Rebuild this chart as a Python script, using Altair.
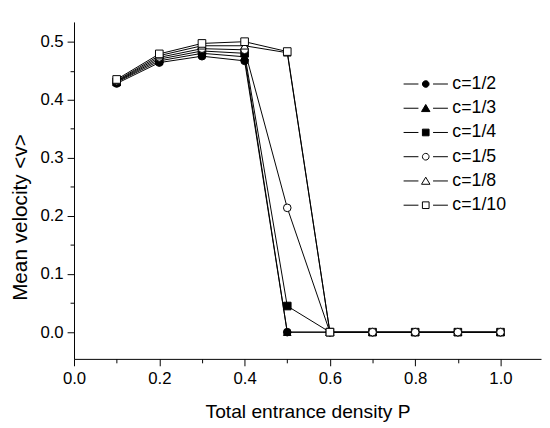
import altair as alt
import pandas as pd

P = [0.1, 0.2, 0.3, 0.4, 0.5, 0.6, 0.7, 0.8, 0.9, 1.0]
series = ["c=1/2", "c=1/3", "c=1/4", "c=1/5", "c=1/8", "c=1/10"]
v_c2 = [0.428, 0.464, 0.475, 0.467, 0.000, 0.0, 0.0, 0.0, 0.0, 0.0]
v_c3 = [0.430, 0.467, 0.480, 0.474, 0.000, 0.0, 0.0, 0.0, 0.0, 0.0]
v_c4 = [0.431, 0.470, 0.484, 0.480, 0.045, 0.0, 0.0, 0.0, 0.0, 0.0]
v_c5 = [0.432, 0.473, 0.488, 0.486, 0.214, 0.0, 0.0, 0.0, 0.0, 0.0]
v_c8 = [0.433, 0.476, 0.493, 0.493, 0.481, 0.0]
v_c10 = [0.435, 0.479, 0.497, 0.500, 0.483, 0.0]

shapes = ["circle", "triangle-up", "square", "circle", "triangle-up", "square"]
fills = ["black", "black", "black", "white", "white", "white"]
strokes = ["black"] * 6

LINE = "M-1,0H-0.33M0.33,0H1"
CIRC = "M-0.15,0A0.15,0.15 0 1,0 0.15,0A0.15,0.15 0 1,0 -0.15,0Z"
TRI = "M0,-0.17L0.19,0.15L-0.19,0.15Z"
SQR = "M-0.15,-0.15H0.15V0.15H-0.15Z"
legend_paths = [LINE + CIRC, LINE + TRI, LINE + SQR, LINE + CIRC, LINE + TRI, LINE + SQR]

rows = []
for name, vals in zip(series, [v_c2, v_c3, v_c4, v_c5, v_c8, v_c10]):
    for p, v in zip(P, vals):
        rows.append({"P": p, "v": v, "series": name})
df = pd.DataFrame(rows)

x_major = [0.0, 0.2, 0.4, 0.6, 0.8, 1.0]
x_minor = [0.1, 0.3, 0.5, 0.7, 0.9]
y_major = [0.0, 0.1, 0.2, 0.3, 0.4, 0.5]
y_minor = [0.05, 0.15, 0.25, 0.35, 0.45]

FONT = "Liberation Sans"
xscale = alt.Scale(domain=[0, 1.095], nice=False, zero=False)
yscale = alt.Scale(domain=[-0.046, 0.534], nice=False, zero=False)

x_axis = alt.Axis(orient="bottom", values=x_major, format=".1f", title="Total entrance density P",
                  tickSize=7, labelPadding=5, labelFontSize=17, titleFontSize=19.5,
                  labelFont=FONT, titleFont=FONT, titleFontWeight="normal",
                  titleY=60, titleBaseline="alphabetic",
                  domainColor="black", tickColor="black", labelColor="black",
                  titleColor="black", grid=False, labelFlush=False)
y_axis = alt.Axis(orient="left", values=y_major, format=".1f", title="Mean velocity <v>",
                  tickSize=7, labelPadding=4, labelFontSize=17, titleFontSize=21,
                  labelFont=FONT, titleFont=FONT, titleFontWeight="normal",
                  titleX=-54, titleY=198, titleBaseline="middle", titleAngle=270,
                  domainColor="black", tickColor="black", labelColor="black",
                  titleColor="black", grid=False, labelFlush=False)
x_minor_axis = alt.Axis(orient="bottom", values=x_minor, labels=False, domain=False, tickSize=4,
                        tickColor="black", title=None, grid=False)
y_minor_axis = alt.Axis(orient="left", values=y_minor, labels=False, domain=False, tickSize=4,
                        tickColor="black", title=None, grid=False)

base = alt.Chart(df)

lines = base.mark_line(color="black", strokeWidth=1).encode(
    x=alt.X("P:Q", scale=xscale, axis=x_axis),
    y=alt.Y("v:Q", scale=yscale, axis=y_axis),
    detail="series:N",
)

points = base.mark_point(filled=True, size=60, stroke="black", strokeWidth=1, opacity=1).encode(
    x=alt.X("P:Q", scale=xscale, axis=None),
    y=alt.Y("v:Q", scale=yscale, axis=None),
    shape=alt.Shape("series:N", scale=alt.Scale(domain=series, range=shapes), legend=None),
    fill=alt.Fill("series:N", scale=alt.Scale(domain=series, range=fills), legend=None),
    order=alt.Order("idx:Q"),
).transform_calculate(
    idx="indexof(" + str(series) + ", datum.series)"
)

legend_spec = dict(title=None, orient="none", legendX=334, legendY=54, padding=0,
                   symbolSize=2025, symbolStrokeWidth=1, symbolStrokeColor="black",
                   symbolOpacity=1, labelFont=FONT, labelFontSize=18, labelColor="black",
                   labelOffset=4, rowPadding=6.6, clipHeight=18)

legend_layer = base.mark_point(filled=False, strokeWidth=1, opacity=0).encode(
    x=alt.X("P:Q", scale=xscale, axis=None),
    y=alt.Y("v:Q", scale=yscale, axis=None),
    shape=alt.Shape("series:N", scale=alt.Scale(domain=series, range=legend_paths),
                    legend=alt.Legend(**legend_spec)),
    fill=alt.Fill("series:N", scale=alt.Scale(domain=series, range=fills),
                  legend=alt.Legend(**legend_spec)),
    stroke=alt.Stroke("series:N", scale=alt.Scale(domain=series, range=strokes),
                      legend=alt.Legend(**legend_spec)),
)

minor = base.mark_point(opacity=0).encode(
    x=alt.X("P:Q", scale=xscale, axis=x_minor_axis),
    y=alt.Y("v:Q", scale=yscale, axis=y_minor_axis),
)

chart = alt.layer(minor, lines, points, legend_layer).resolve_scale(
    shape="independent", fill="independent", stroke="independent"
).resolve_axis(x="independent", y="independent").properties(
    width=474, height=342,
    autosize=alt.AutoSizeParams(type="none"),
    padding={"left": 67, "top": 11, "right": 1, "bottom": 67},
).configure_view(stroke=None).configure_axis(domainWidth=1, tickWidth=1)

chart.save("out.html", embed_options={"renderer": "svg", "actions": False})
